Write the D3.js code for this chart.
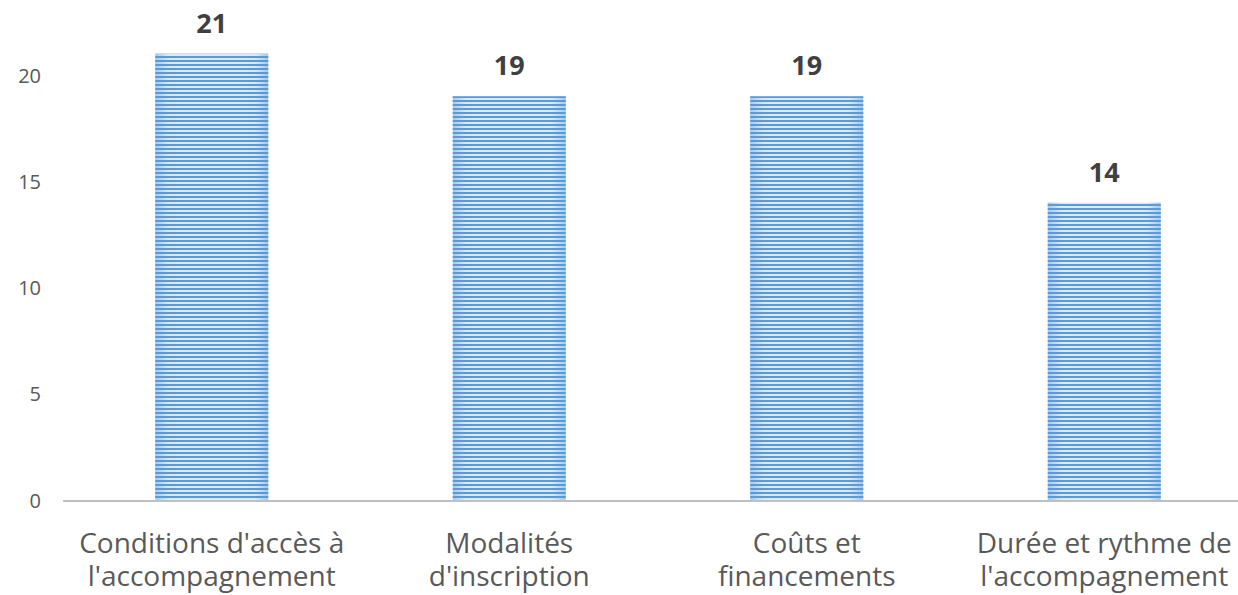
<!DOCTYPE html>
<html>
<head>
<meta charset="utf-8">
<script src="https://cdn.jsdelivr.net/npm/d3@7"></script>
<style>
  body { margin: 0; background: #fff; }
  svg { display: block; font-family: "Open Sans", sans-serif; }
</style>
</head>
<body>
<div id="wrapper"></div>
<script>
// Data
const categories = [
  ["Conditions d'accès à", "l'accompagnement"],
  ["Modalités", "d'inscription"],
  ["Coûts et", "financements"],
  ["Durée et rythme de", "l'accompagnement"],
];
const values = [21, 19, 19, 14];
const yTicks = [0, 5, 10, 15, 20];

function drawBars() {
  let dimensions = {
    width: 1238,
    height: 595,
    margin: { top: 0, right: -15, bottom: 95, left: 63 },
  };
  dimensions.boundedWidth =
    dimensions.width - dimensions.margin.left - dimensions.margin.right;
  dimensions.boundedHeight =
    dimensions.height - dimensions.margin.top - dimensions.margin.bottom;

  const keys = categories.map((c) => c.join(' '));

  const xScale = d3
    .scaleBand()
    .domain(keys)
    .range([0, dimensions.boundedWidth])
    .paddingInner(0.62)
    .paddingOuter(0.31);

  // 0 at y=500, 20 at y=75
  const yScale = d3
    .scaleLinear()
    .domain([0, 20])
    .range([dimensions.boundedHeight, 75]);

  const wrapper = d3
    .select('#wrapper')
    .append('svg')
    .attr('width', dimensions.width)
    .attr('height', dimensions.height);

  // stripe pattern
  const defs = wrapper.append('defs');
  const grad = defs
    .append('linearGradient')
    .attr('id', 'barGrad')
    .attr('x1', '0').attr('x2', '1').attr('y1', '0').attr('y2', '0');
  grad.append('stop').attr('offset', '0%').attr('stop-color', '#a9c8ea');
  grad.append('stop').attr('offset', '12%').attr('stop-color', '#dde9f6');
  grad.append('stop').attr('offset', '88%').attr('stop-color', '#dde9f6');
  grad.append('stop').attr('offset', '100%').attr('stop-color', '#a9c8ea');

  const pattern = defs
    .append('pattern')
    .attr('id', 'stripes')
    .attr('patternUnits', 'userSpaceOnUse')
    .attr('width', 8)
    .attr('height', 4);
  pattern
    .append('rect')
    .attr('width', 8)
    .attr('height', 2)
    .attr('fill', '#5b9bd5');

  const bounds = wrapper
    .append('g')
    .attr(
      'transform',
      `translate(${dimensions.margin.left}, ${dimensions.margin.top})`
    );

  // y axis labels (no axis line)
  const yAxis = d3.axisLeft(yScale).tickValues(yTicks).tickSize(0).tickPadding(0);
  const yAxisGroup = bounds
    .append('g')
    .attr('transform', 'translate(-22, 0)')
    .call(yAxis);
  yAxisGroup.select('.domain').remove();
  yAxisGroup
    .selectAll('text')
    .attr('fill', '#595959')
    .style('font-family', '"Open Sans", sans-serif')
    .style('font-size', '20px')
    .attr('dy', '0.35em');

  // bars
  const bars = bounds
    .selectAll('.bar')
    .data(values)
    .enter()
    .append('g')
    .attr('class', 'bar');

  bars
    .append('rect')
    .attr('x', (d, i) => xScale(keys[i]))
    .attr('y', (d) => yScale(d))
    .attr('width', xScale.bandwidth())
    .attr('height', (d) => yScale(0) - yScale(d))
    .attr('fill', 'url(#barGrad)');

  bars
    .append('rect')
    .attr('x', (d, i) => xScale(keys[i]))
    .attr('y', (d) => yScale(d))
    .attr('width', xScale.bandwidth())
    .attr('height', (d) => yScale(0) - yScale(d))
    .attr('fill', 'url(#stripes)');

  // value labels
  bars
    .append('text')
    .attr('x', (d, i) => xScale(keys[i]) + xScale.bandwidth() / 2)
    .attr('y', (d) => yScale(d) - 21)
    .attr('text-anchor', 'middle')
    .attr('fill', '#404040')
    .style('font-size', '27px')
    .style('font-weight', 'bold')
    .text((d) => d);

  // x axis line
  bounds
    .append('line')
    .attr('x1', 0)
    .attr('x2', dimensions.boundedWidth)
    .attr('y1', yScale(0) + 1)
    .attr('y2', yScale(0) + 1)
    .attr('stroke', '#bfbfbf')
    .attr('stroke-width', 2);

  // category labels
  const catLabels = bounds
    .selectAll('.cat')
    .data(categories)
    .enter()
    .append('text')
    .attr('class', 'cat')
    .attr('text-anchor', 'middle')
    .attr('fill', '#595959')
    .style('font-size', '28px');

  catLabels
    .selectAll('tspan')
    .data((d, i) => d.map((line) => ({ line, key: keys[i] })))
    .enter()
    .append('tspan')
    .attr('x', (d) => xScale(d.key) + xScale.bandwidth() / 2)
    .attr('y', (d, j) => 553 + j * 33)
    .text((d) => d.line);
}
drawBars();
</script>
</body>
</html>
